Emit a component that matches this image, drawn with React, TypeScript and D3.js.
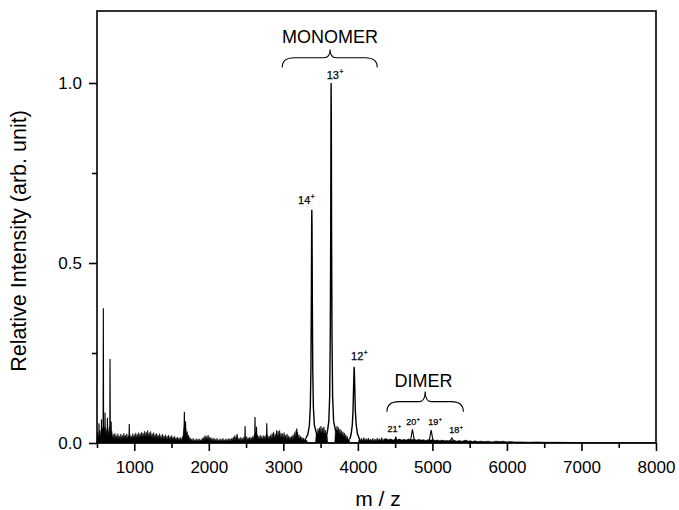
import React, { useEffect, useRef } from 'react';
import * as d3 from 'd3';

// dense low-level noise envelope (m/z, top intensity)
const noiseEnvelope: [number, number][] = [
  [500, 0], [505, 0.03], [515, 0.012], [525, 0.022], [540, 0.035], [550, 0.015], [560, 0.03], [575, 0.042],
  [590, 0.02], [600, 0.045], [620, 0.025], [635, 0.04], [650, 0.022], [665, 0.045], [680, 0.02], [700, 0.032],
  [710, 0.013], [720, 0.024], [730, 0.012], [740, 0.027], [750, 0.013], [760, 0.021], [770, 0.011], [780, 0.026],
  [790, 0.012], [800, 0.02], [810, 0.01], [820, 0.025], [830, 0.012], [840, 0.021], [850, 0.011], [860, 0.027],
  [870, 0.013], [880, 0.022], [890, 0.012], [900, 0.026], [910, 0.011], [920, 0.021], [930, 0.013], [940, 0.025],
  [950, 0.012], [960, 0.02], [970, 0.011], [980, 0.026], [990, 0.013], [1000, 0.023], [1010, 0.012], [1020, 0.028],
  [1030, 0.014], [1040, 0.024], [1050, 0.013], [1060, 0.029], [1070, 0.014], [1080, 0.026], [1090, 0.015],
  [1100, 0.031], [1110, 0.015], [1120, 0.027], [1130, 0.016], [1140, 0.033], [1150, 0.016], [1160, 0.03],
  [1170, 0.017], [1180, 0.035], [1190, 0.016], [1200, 0.029], [1210, 0.015], [1220, 0.032], [1230, 0.014],
  [1240, 0.026], [1250, 0.013], [1260, 0.029], [1270, 0.013], [1280, 0.024], [1290, 0.012], [1300, 0.027],
  [1310, 0.012], [1320, 0.022], [1330, 0.011], [1340, 0.026], [1350, 0.011], [1360, 0.021], [1370, 0.01],
  [1380, 0.025], [1390, 0.01], [1400, 0.02], [1410, 0.01], [1420, 0.023], [1430, 0.009], [1440, 0.019],
  [1450, 0.009], [1460, 0.022], [1470, 0.009], [1480, 0.018], [1490, 0.008], [1500, 0.021], [1510, 0.008],
  [1520, 0.017], [1530, 0.008], [1540, 0.019], [1550, 0.007], [1560, 0.015], [1570, 0.007], [1580, 0.017],
  [1590, 0.006], [1600, 0.014], [1610, 0.006], [1620, 0.016], [1630, 0.006], [1640, 0.013], [1655, 0.02],
  [1670, 0.045], [1680, 0.03], [1690, 0.042], [1700, 0.025], [1710, 0.032], [1720, 0.015], [1730, 0.022],
  [1740, 0.008], [1750, 0.015], [1760, 0.005], [1770, 0.011], [1780, 0.005], [1790, 0.013], [1800, 0.004],
  [1810, 0.009], [1820, 0.004], [1830, 0.012], [1840, 0.004], [1850, 0.01], [1860, 0.004], [1870, 0.012],
  [1880, 0.004], [1890, 0.009], [1900, 0.005], [1910, 0.013], [1920, 0.006], [1930, 0.016], [1940, 0.008],
  [1950, 0.021], [1960, 0.008], [1970, 0.018], [1980, 0.008], [1990, 0.022], [2000, 0.008], [2010, 0.017],
  [2020, 0.007], [2030, 0.015], [2040, 0.006], [2050, 0.012], [2060, 0.005], [2070, 0.014], [2080, 0.005],
  [2090, 0.01], [2100, 0.005], [2110, 0.013], [2120, 0.004], [2130, 0.009], [2140, 0.004], [2150, 0.012],
  [2160, 0.004], [2170, 0.01], [2180, 0.005], [2190, 0.013], [2200, 0.004], [2210, 0.009], [2220, 0.005],
  [2230, 0.012], [2240, 0.004], [2250, 0.01], [2260, 0.005], [2270, 0.013], [2280, 0.005], [2290, 0.011],
  [2300, 0.005], [2310, 0.014], [2320, 0.006], [2330, 0.017], [2340, 0.008], [2350, 0.021], [2360, 0.008],
  [2370, 0.018], [2380, 0.007], [2390, 0.015], [2400, 0.006], [2410, 0.013], [2420, 0.006], [2430, 0.016],
  [2440, 0.006], [2450, 0.013], [2460, 0.006], [2470, 0.017], [2480, 0.007], [2490, 0.015], [2500, 0.007],
  [2510, 0.018], [2520, 0.007], [2530, 0.014], [2540, 0.007], [2550, 0.017], [2560, 0.007], [2570, 0.015],
  [2580, 0.008], [2590, 0.019], [2600, 0.01], [2610, 0.023], [2620, 0.012], [2630, 0.031], [2640, 0.012],
  [2650, 0.023], [2660, 0.01], [2670, 0.019], [2680, 0.009], [2690, 0.022], [2700, 0.009], [2710, 0.018],
  [2720, 0.008], [2730, 0.021], [2740, 0.009], [2750, 0.019], [2760, 0.01], [2770, 0.025], [2780, 0.011],
  [2790, 0.022], [2800, 0.01], [2810, 0.019], [2820, 0.01], [2830, 0.023], [2840, 0.011], [2850, 0.027],
  [2860, 0.012], [2870, 0.031], [2880, 0.012], [2890, 0.025], [2900, 0.012], [2910, 0.029], [2920, 0.013],
  [2930, 0.033], [2940, 0.014], [2950, 0.035], [2960, 0.013], [2970, 0.028], [2980, 0.012], [2990, 0.026],
  [3000, 0.012], [3010, 0.029], [3020, 0.011], [3030, 0.022], [3040, 0.01], [3050, 0.025], [3060, 0.009],
  [3070, 0.02], [3080, 0.008], [3090, 0.017], [3100, 0.008], [3110, 0.019], [3120, 0.009], [3130, 0.023],
  [3140, 0.011], [3150, 0.029], [3160, 0.013], [3170, 0.034], [3180, 0.014], [3190, 0.031], [3200, 0.012],
  [3210, 0.023], [3220, 0.01], [3230, 0.019], [3240, 0.008], [3250, 0.016], [3260, 0.007], [3270, 0.014],
  [3280, 0.006], [3290, 0.012], [3310, 0.008], [3330, 0],
  [3430, 0], [3445, 0.03], [3455, 0.02], [3465, 0.04], [3475, 0.025], [3485, 0.043], [3495, 0.027], [3505, 0.047],
  [3515, 0.026], [3525, 0.042], [3535, 0.025], [3545, 0.045], [3555, 0.022], [3565, 0.036], [3575, 0.018],
  [3585, 0.028], [3595, 0], [3690, 0], [3700, 0.04], [3710, 0.028], [3720, 0.047], [3730, 0.027], [3740, 0.043],
  [3750, 0.024], [3760, 0.039], [3770, 0.021], [3780, 0.035], [3790, 0.018], [3800, 0.031], [3810, 0.016],
  [3820, 0.028], [3830, 0.013], [3840, 0.023], [3850, 0.01], [3860, 0.018], [3870, 0.008], [3880, 0.011],
  [3895, 0], [4005, 0], [4020, 0.014], [4035, 0.007], [4050, 0.013], [4065, 0.006], [4080, 0.015], [4095, 0.006],
  [4110, 0.012], [4125, 0.006], [4140, 0.014], [4155, 0.006], [4170, 0.011], [4185, 0.005], [4200, 0.013],
  [4215, 0.005], [4230, 0.011], [4245, 0.005], [4260, 0.014], [4275, 0.006], [4290, 0.012], [4305, 0.006],
  [4320, 0.015], [4335, 0.005], [4350, 0.011], [4380, 0.012], [4410, 0.009], [4440, 0.011], [4470, 0.008],
  [4500, 0.01], [4530, 0.009], [4560, 0.011], [4590, 0.008], [4620, 0.01], [4650, 0.008], [4680, 0.011],
  [4710, 0.009], [4760, 0.01], [4790, 0.008], [4820, 0.01], [4850, 0.008], [4880, 0.009], [4910, 0.007],
  [4940, 0.009], [4970, 0.008], [5010, 0.009], [5040, 0.007], [5070, 0.008], [5100, 0.006], [5130, 0.008],
  [5160, 0.006], [5190, 0.007], [5220, 0.006], [5300, 0.007], [5330, 0.005], [5360, 0.007], [5390, 0.005],
  [5420, 0.006], [5450, 0.008], [5480, 0.005], [5510, 0.006], [5540, 0.004], [5570, 0.006], [5600, 0.004],
  [5650, 0.005], [5700, 0.004], [5750, 0.005], [5800, 0.003], [5850, 0.005], [5900, 0.004], [5950, 0.005],
  [6000, 0.003], [6050, 0.004], [6100, 0.003], [6200, 0.003], [6300, 0.002], [6400, 0.003], [6500, 0.002],
  [6700, 0.002], [7000, 0.001], [7500, 0.001], [8000, 0.001],
];

// monomer charge-state peaks 14+, 13+, 12+
const peak14: [number, number][] = [
  [3300, 0.012], [3330, 0.025], [3350, 0.05], [3362, 0.1], [3370, 0.2], [3376, 0.4], [3380, 0.6], [3382, 0.648],
  [3385, 0.6], [3389, 0.4], [3395, 0.2], [3403, 0.1], [3416, 0.05], [3440, 0.03], [3460, 0.02],
];
const peak13: [number, number][] = [
  [3560, 0.015], [3590, 0.03], [3610, 0.06], [3622, 0.13], [3630, 0.3], [3636, 0.6], [3639, 0.9], [3641, 1.0],
  [3644, 0.9], [3647, 0.6], [3653, 0.3], [3661, 0.13], [3675, 0.06], [3700, 0.035], [3730, 0.03],
];
const peak12: [number, number][] = [
  [3890, 0.01], [3910, 0.025], [3925, 0.05], [3935, 0.09], [3943, 0.16], [3948, 0.2], [3950, 0.212],
  [3953, 0.2], [3958, 0.16], [3966, 0.09], [3978, 0.05], [3995, 0.025], [4020, 0.012],
];

// narrow spikes: position, height, half base width (m/z)
const spikeMz = [527, 560, 585, 608, 640, 675, 690, 933, 1672, 1688, 2380, 2487, 2620, 2640, 2778, 2910, 3180, 4509, 4732, 4983, 5261];
const spikeHeight = [0.055, 0.065, 0.374, 0.085, 0.07, 0.233, 0.06, 0.053, 0.087, 0.06, 0.025, 0.047, 0.072, 0.045, 0.055, 0.035, 0.04, 0.018, 0.038, 0.036, 0.014];
const spikeHalfWidth = [4, 4, 4, 4, 4, 4, 4, 4, 6, 6, 6, 4, 5, 5, 5, 6, 6, 15, 28, 28, 30];

// charge state labels (text start m/z, baseline intensity)
const chargeText = ['14', '13', '12', '21', '20', '19', '18'];
const chargeMz = [3198, 3582, 3909, 4396, 4648, 4943, 5225];
const chargeY = [0.664, 1.012, 0.231, 0.031, 0.05, 0.05, 0.028];
const chargeSmall = [false, false, false, true, true, true, true];

const xMajorTicks = [1000, 2000, 3000, 4000, 5000, 6000, 7000, 8000];
const xMinorTicks = [500, 1500, 2500, 3500, 4500, 5500, 6500, 7500];
const yMajorTicks = [0, 0.5, 1.0];
const yMinorTicks = [0.25, 0.75];

const W = 679;
const H = 510;
const font = '"Liberation Sans", Arial, sans-serif';

export default function App() {
  const ref = useRef<SVGSVGElement>(null);

  useEffect(() => {
    const svg = d3.select(ref.current);
    svg.selectAll('*').remove();

    const x = d3.scaleLinear().domain([500, 8000]).range([97, 656]);
    const y = d3.scaleLinear().domain([0, 1.2]).range([443, 11]);

    const g = svg.append('g');

    // noise band
    const area = d3.area<[number, number]>()
      .x(d => x(d[0]))
      .y0(y(0))
      .y1(d => y(d[1]));
    g.append('path')
      .attr('d', area(noiseEnvelope))
      .attr('fill', '#000')
      .attr('stroke', '#000')
      .attr('stroke-width', 0.6);

    const line = d3.line<[number, number]>()
      .x(d => x(d[0]))
      .y(d => y(d[1]));

    [peak14, peak13, peak12].forEach(p => {
      g.append('path')
        .attr('d', line(p))
        .attr('fill', 'none')
        .attr('stroke', '#000')
        .attr('stroke-width', 1.4);
    });

    spikeMz.forEach((m, i) => {
      const pts: [number, number][] = [
        [m - spikeHalfWidth[i], 0.004],
        [m, spikeHeight[i]],
        [m + spikeHalfWidth[i], 0.004],
      ];
      g.append('path')
        .attr('d', line(pts))
        .attr('fill', 'none')
        .attr('stroke', '#000')
        .attr('stroke-width', 1.1);
    });

    // frame
    svg.append('rect')
      .attr('x', 97).attr('y', 11)
      .attr('width', 656 - 97).attr('height', 443 - 11)
      .attr('fill', 'none')
      .attr('stroke', '#000')
      .attr('stroke-width', 1.6);

    // x axis
    const xAxis = svg.append('g')
      .attr('transform', `translate(0,${y(0)})`)
      .call(d3.axisBottom(x).tickValues(xMajorTicks).tickSize(8).tickPadding(10).tickFormat(d3.format('d')));
    svg.append('g')
      .attr('transform', `translate(0,${y(0)})`)
      .call(d3.axisBottom(x).tickValues(xMinorTicks).tickSize(5).tickFormat(() => ''))
      .select('.domain').remove();

    // y axis
    const yAxis = svg.append('g')
      .attr('transform', `translate(${x(500)},0)`)
      .call(d3.axisLeft(y).tickValues(yMajorTicks).tickSize(8).tickPadding(7).tickFormat(d3.format('.1f')));
    svg.append('g')
      .attr('transform', `translate(${x(500)},0)`)
      .call(d3.axisLeft(y).tickValues(yMinorTicks).tickSize(5).tickFormat(() => ''))
      .select('.domain').remove();

    [xAxis, yAxis].forEach(a => {
      a.select('.domain').remove();
      a.selectAll('text').attr('font-size', 17).attr('font-family', font).attr('fill', '#000');
    });
    svg.selectAll('.tick line').attr('stroke', '#000').attr('stroke-width', 1.6);

    // axis titles
    svg.append('text')
      .attr('x', 378).attr('y', 506)
      .attr('text-anchor', 'middle')
      .attr('font-family', font).attr('font-size', 21)
      .text('m / z');
    svg.append('text')
      .attr('transform', 'translate(26,241) rotate(-90)')
      .attr('text-anchor', 'middle')
      .attr('font-family', font).attr('font-size', 21.5)
      .text('Relative Intensity (arb. unit)');

    // charge state labels
    chargeText.forEach((t, i) => {
      const fs = chargeSmall[i] ? 9 : 11;
      const txt = svg.append('text')
        .attr('x', x(chargeMz[i])).attr('y', y(chargeY[i]))
        .attr('font-family', font).attr('font-size', fs).attr('fill', '#000')
        .attr('stroke', '#000').attr('stroke-width', 0.25)
        .text(t);
      txt.append('tspan')
        .attr('dx', 0.5).attr('dy', -fs * 0.45)
        .attr('font-size', fs * 0.6)
        .text('+');
    });

    // braces with group labels
    const brace = (m0: number, m1: number, mc: number, yEnd: number, yMid: number, yTip: number) => {
      const x0 = x(m0), x1 = x(m1), xc = x(mc);
      const ye = y(yEnd), ym = y(yMid), yt = y(yTip);
      const r = 12;
      const d = `M${x0},${ye} Q${x0},${ym} ${x0 + r},${ym} L${xc - 6},${ym} Q${xc},${ym} ${xc},${yt}`
        + ` Q${xc},${ym} ${xc + 6},${ym} L${x1 - r},${ym} Q${x1},${ym} ${x1},${ye}`;
      svg.append('path').attr('d', d).attr('fill', 'none').attr('stroke', '#000').attr('stroke-width', 1.1);
    };
    brace(2985, 4260, 3627, 1.043, 1.07, 1.093);
    brace(4390, 5415, 4903, 0.087, 0.115, 0.143);

    svg.append('text')
      .attr('x', x(3627)).attr('y', y(1.112))
      .attr('text-anchor', 'middle')
      .attr('font-family', font).attr('font-size', 18)
      .text('MONOMER');
    svg.append('text')
      .attr('x', x(4880)).attr('y', y(0.155))
      .attr('text-anchor', 'middle')
      .attr('font-family', font).attr('font-size', 18)
      .text('DIMER');
  }, []);

  return (
    <svg
      ref={ref}
      width={W}
      height={H}
      style={{ position: 'absolute', left: 0, top: 0, background: '#fff' }}
    />
  );
}
